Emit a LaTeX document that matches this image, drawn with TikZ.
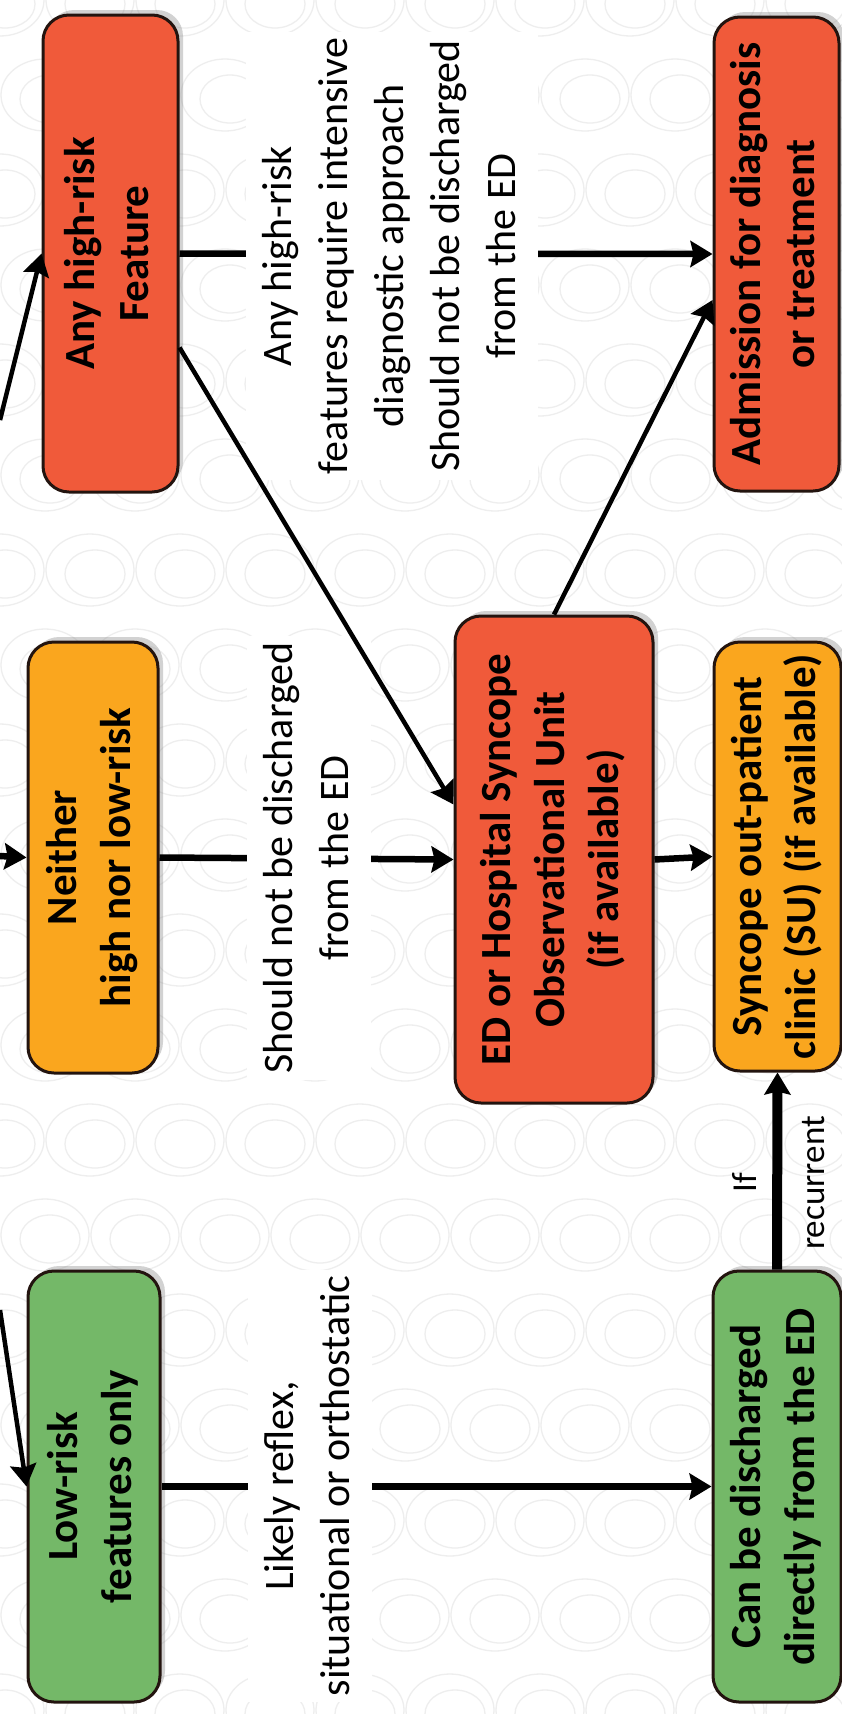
\documentclass[tikz,border=0pt]{standalone}
\usepackage{fontspec}
\setmainfont{Carlito}
\usepackage{graphicx}
\usetikzlibrary{arrows.meta,shadows}
\definecolor{boxred}{RGB}{240,90,58}
\definecolor{boxorange}{RGB}{250,166,30}
\definecolor{boxgreen}{RGB}{116,184,104}
\definecolor{edgecol}{RGB}{35,20,15}
\definecolor{swirl}{RGB}{238,238,238}
\newcommand\rtxt[1]{\rotatebox{90}{\begin{tabular}{@{}c@{}}#1\end{tabular}}}
\begin{document}
\begin{tikzpicture}[x=1pt,y=-1pt,
  box/.style={draw=edgecol, line width=3pt, rounded corners=26pt, inner sep=0pt,
    font=\fontsize{43}{54}\selectfont\bfseries,
    drop shadow={shadow xshift=5pt, shadow yshift=5pt, opacity=0.35}},
  redbox/.style={box, fill=boxred},
  orangebox/.style={box, fill=boxorange},
  greenbox/.style={box, fill=boxgreen},
  lbl/.style={fill=white, inner sep=6pt, font=\fontsize{42}{56}\selectfont},
  conn/.style={line width=6.5pt, -{Stealth[length=22pt,width=26pt,inset=3pt]}},
  diag/.style={line width=4.5pt},
  swirlline/.style={draw=swirl, line width=1.3pt}
]
\useasboundingbox (0,0) rectangle (842,1714);
\fill[white] (0,0) rectangle (842,1714);
% faint background texture
\foreach \i in {0,...,10}{
  \foreach \j in {0,...,18}{
    \pgfmathsetmacro{\cx}{\i*90+mod(\j,2)*45}
    \pgfmathsetmacro{\cy}{\j*95}
    \draw[swirlline] (\cx,\cy) ellipse [x radius=44pt, y radius=36pt];
    \draw[swirlline] (\cx+5,\cy+4) ellipse [x radius=30pt, y radius=24pt];
  }
}

% boxes
\node[redbox, minimum width=135pt, minimum height=477pt] (hr) at (110.5,253.5) {\rtxt{Any high-risk\\Feature}};
\node[orangebox, minimum width=130pt, minimum height=431pt] (nei) at (93,857.5) {\rtxt{Neither\\high nor low-risk}};
\node[greenbox, minimum width=132pt, minimum height=431pt] (low) at (94,1486.5) {\rtxt{Low-risk\\features only}};
\node[redbox, minimum width=198pt, minimum height=487pt] (ed) at (554,859.5) {\rtxt{ED or Hospital Syncope\\Observational Unit\\(if available)}};
\node[redbox, minimum width=125pt, minimum height=474pt] (adm) at (776.5,254) {\rtxt{Admission for diagnosis\\or treatment}};
\node[orangebox, minimum width=127pt, minimum height=429pt] (su) at (777.5,856.5) {\rtxt{Syncope out-patient\\clinic (SU) (if available)}};
\node[greenbox, minimum width=128pt, minimum height=431pt] (can) at (777,1486.5) {\rtxt{Can be discharged\\directly from the ED}};

% free ends
\coordinate (in1) at (0,420);
\coordinate (in2) at (0,856);
\coordinate (in3) at (0,1310);

% straight connectors (labels sit on top of them)
\draw[conn] (in2) -- (nei.west);
\draw[conn] (hr.east) -- (adm.west);
\draw[conn] (nei.east) -- (ed.west);
\draw[conn] (ed.east) -- (su.west);
\draw[conn] (low.east) -- (can.west);
\draw[conn, line width=10pt] (can.north) -- (su.south);

% labels
\node[lbl] (l1) at (392,256) {\rtxt{Any high-risk\\features require intensive\\diagnostic approach\\Should not be discharged\\from the ED}};
\node[lbl] (l2) at (309,858) {\rtxt{Should not be discharged\\from the ED}};
\node[lbl] (l3) at (310,1486) {\rtxt{Likely reflex,\\situational or orthostatic}};
\node[inner sep=0pt, font=\fontsize{35}{68}\selectfont] (l4) at (777,1183) {\rtxt{If\\recurrent}};

% diagonal connectors
\draw[conn, diag] (in1) -- (hr.west);
\draw[conn, diag] (in3) -- (low.west);
\draw[conn, diag] ([yshift=-94pt]hr.east) -- ([yshift=55pt]ed.west);
\draw[conn, diag] (ed.north) -- ([yshift=-46pt]adm.west);
\end{tikzpicture}
\end{document}
